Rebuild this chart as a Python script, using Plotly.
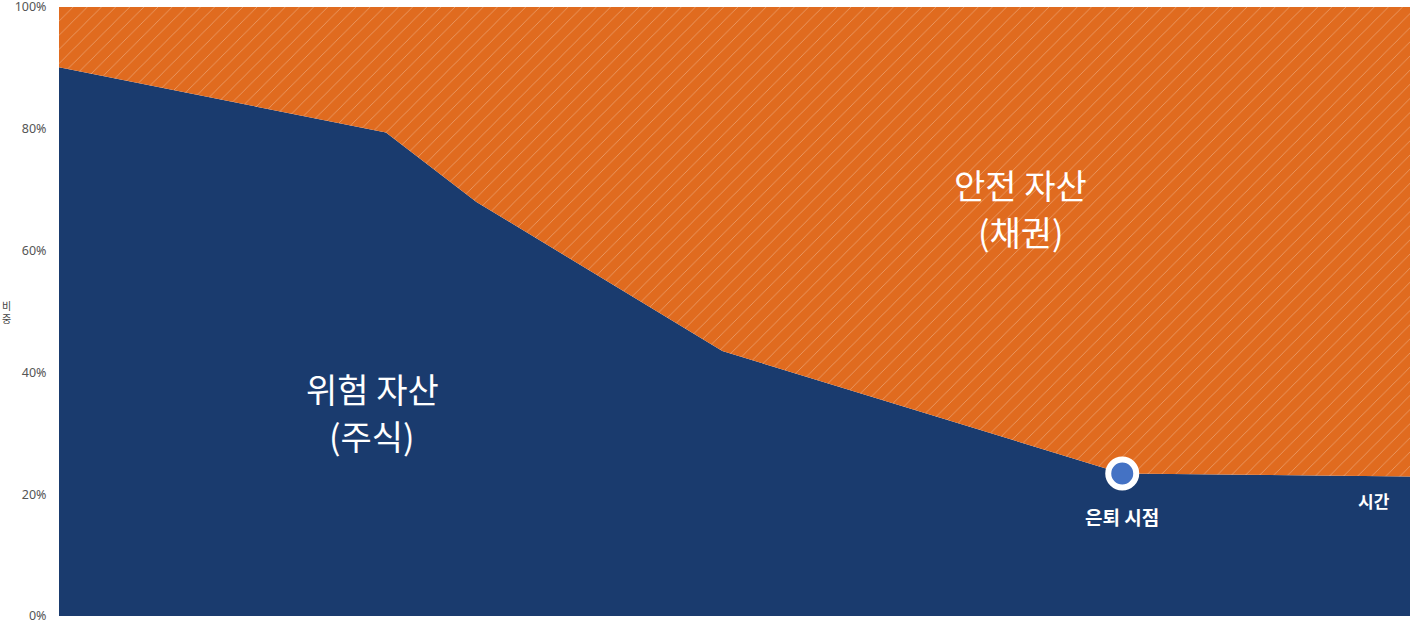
import plotly.graph_objects as go

# Data
time_points = [0, 24.2, 30.9, 49.1, 78.7, 100]
risk_share = [90.1, 79.4, 68.0, 43.5, 23.4, 22.9]
safe_share = [round(100 - v, 1) for v in risk_share]
retire_x = 78.7
retire_y = 23.4
y_ticks = [0, 20, 40, 60, 80, 100]
y_tick_labels = [f"{v}%" for v in y_ticks]

NAVY = "#1a3b6e"
ORANGE = "#e06b1f"
FONT = "Noto Sans CJK KR"

fig = go.Figure()
fig.add_trace(go.Scatter(
    x=time_points, y=risk_share, stackgroup="one", mode="none",
    fillcolor=NAVY, name="위험 자산 (주식)", hoverinfo="skip",
))
fig.add_trace(go.Scatter(
    x=time_points, y=safe_share, stackgroup="one", mode="none",
    fillcolor=ORANGE, name="안전 자산 (채권)", hoverinfo="skip",
    fillpattern=dict(shape="/", bgcolor=ORANGE, fgcolor="#ffffff",
                     fgopacity=0.35, size=10, solidity=0.08),
))
fig.add_trace(go.Scatter(
    x=[retire_x], y=[retire_y], mode="markers",
    marker=dict(size=28, color="#4472c4", line=dict(color="white", width=6)),
    hoverinfo="skip", cliponaxis=False,
))

def label(x, y, text, size, bold=False):
    fig.add_annotation(
        x=x, y=y, xref="x", yref="y", text=f"<b>{text}</b>" if bold else text,
        showarrow=False, font=dict(family=FONT, size=size, color="white"),
        xanchor="center", yanchor="middle",
    )

label(23.2, 37.4, "위험 자산", 34)
label(23.2, 29.6, "(주식)", 34)
label(71.2, 70.8, "안전 자산", 34)
label(71.2, 63.1, "(채권)", 34)
label(retire_x, 16.3, "은퇴 시점", 19, bold=True)
label(97.3, 19.0, "시간", 17, bold=True)

fig.add_annotation(
    x=-0.039, y=0.50, xref="paper", yref="paper", text="비<br>중", showarrow=False,
    font=dict(family=FONT, size=10, color="#444"), xanchor="center", yanchor="middle",
)

fig.update_layout(
    width=1410, height=625,
    margin=dict(l=59, r=0, t=7, b=9, autoexpand=False),
    paper_bgcolor="white", plot_bgcolor="white",
    showlegend=False,
    hovermode=False,
    xaxis=dict(range=[0, 100], showgrid=False, zeroline=False, showticklabels=False,
               showline=False, fixedrange=True, automargin=False),
    yaxis=dict(range=[0, 100], tickvals=y_ticks, ticktext=y_tick_labels,
               showgrid=False, zeroline=False, showline=False, automargin=False,
               ticklabeloverflow="allow",
               tickfont=dict(family="Noto Sans", size=12.5, color="#555"),
               ticks="outside", ticklen=9, tickcolor="rgba(0,0,0,0)", fixedrange=True),
    font=dict(family=FONT),
)

fig.write_html(
    "out.html",
    config={"displayModeBar": False, "staticPlot": True},
    post_script="document.body.style.margin='0';document.body.style.overflow='hidden';",
)
